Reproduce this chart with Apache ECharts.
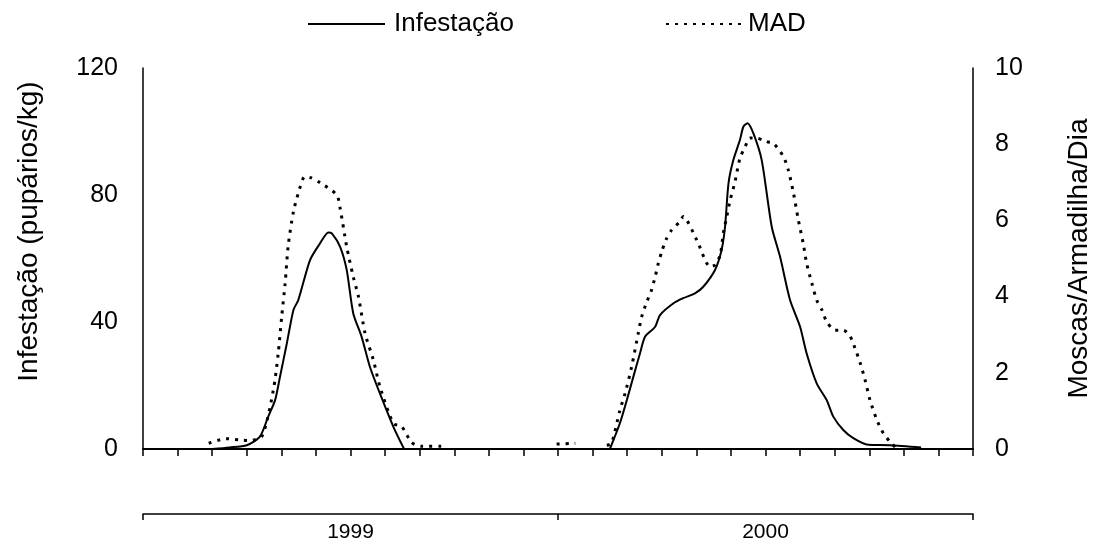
<!DOCTYPE html>
<html><head><meta charset="utf-8">
<script src="https://cdn.jsdelivr.net/npm/echarts@6/dist/echarts.min.js"></script>
<style>html,body{margin:0;padding:0;background:#fff}#c{width:1101px;height:548px}</style>
</head><body><div id="c"></div>
<script>
// x positions are in months counted from Jan 1999 (0..24)
const years = ['1999', '2000'];
const leftTicks = [0, 40, 80, 120];
const rightTicks = [0, 2, 4, 6, 8, 10];

const infestMonth = [2.0, 2.5, 3.0, 3.38, 3.62, 3.82, 3.96, 4.16, 4.35, 4.49, 4.83, 5.12, 5.36, 5.46, 5.70, 5.89, 6.08, 6.32, 6.56, 6.85, 7.24, 7.55,
  10.0,
  13.5, 13.79, 13.99, 14.18, 14.37, 14.52, 14.81, 14.95, 15.34, 15.62, 15.96, 16.2, 16.54, 16.73, 16.83, 16.93, 17.07, 17.26, 17.36, 17.48, 17.65, 17.89, 18.18, 18.42, 18.71, 19.0, 19.19, 19.48, 19.77, 19.96, 20.25, 20.54, 20.97, 21.6, 22.5];
const infestValue = [0, 0.5, 1.2, 3.9, 10.2, 15.4, 22.7, 33.3, 43.8, 46.9, 59.5, 64.8, 68.2, 67.9, 63.7, 56.4, 42.7, 35.4, 25.9, 17.5, 7.0, 0,
  null,
  0, 8.1, 15.4, 22.8, 30.1, 35.4, 38.5, 42.2, 45.9, 47.5, 49.0, 51.1, 56.4, 62.7, 70.0, 83.7, 91.0, 97.3, 101.5, 102.6, 99.4, 91.0, 70.0, 60.6, 46.9, 38.5, 30.1, 20.7, 15.4, 10.2, 6.0, 3.4, 1.3, 1.2, 0.5];

const madMonth = [1.9, 2.4, 2.9, 3.1, 3.45, 3.77, 3.91, 4.01, 4.11, 4.2, 4.35, 4.49, 4.68, 4.85, 5.12, 5.6, 5.7, 5.89, 6.08, 6.23, 6.42, 6.66, 6.85, 7.24, 7.48, 7.77, 8.05, 8.7,
  9.5,
  11.96, 12.5,
  13.0,
  13.41, 13.55, 13.79, 13.94, 14.13, 14.32, 14.42, 14.57, 14.69, 14.81, 14.9, 15.0, 15.12, 15.29, 15.53, 15.62, 16.01, 16.4, 16.54, 16.69, 16.78, 16.88, 16.98, 17.12, 17.26, 17.41, 17.55, 17.75, 17.99, 18.23, 18.52, 18.66, 18.81, 18.95, 19.09, 19.19, 19.34, 19.48, 19.63, 19.77, 20.01, 20.25, 20.45, 20.59, 20.74, 20.88, 21.02, 21.22, 21.41, 21.6, 21.75];
const madValue = [0.15, 0.27, 0.23, 0.22, 0.35, 1.55, 2.51, 3.47, 4.35, 5.35, 6.23, 6.71, 7.15, 7.12, 6.99, 6.67, 6.32, 5.31, 4.52, 4.0, 3.04, 2.34, 1.64, 0.67, 0.59, 0.17, 0.07, 0.07,
  null,
  0.13, 0.15,
  null,
  0.1, 0.15, 1.02, 1.46, 2.16, 3.04, 3.47, 3.87, 4.13, 4.52, 4.87, 5.18, 5.49, 5.75, 5.97, 6.1, 5.49, 4.78, 4.83, 5.09, 5.66, 6.1, 6.54, 7.02, 7.63, 7.93, 8.16, 8.16, 8.07, 8.02, 7.67, 7.32, 6.71, 6.01, 5.40, 4.87, 4.35, 3.91, 3.65, 3.34, 3.12, 3.12, 2.95, 2.64, 2.25, 1.81, 1.29, 0.76, 0.41, 0.19, 0.05];

const infestData = infestMonth.map((m, i) => [m, infestValue[i]]);
const madData = madMonth.map((m, i) => [m, madValue[i]]);

const chart = echarts.init(document.getElementById('c'), null, {renderer: 'canvas'});
const FONT = 'Liberation Sans, Arial, sans-serif';
const legendBase = {
  top: 6, itemWidth: 77, itemHeight: 14,
  itemStyle: {opacity: 0, borderWidth: 0},
  textStyle: {fontSize: 26, color: '#000', fontFamily: FONT}
};
chart.setOption({
  animation: false,
  backgroundColor: '#fff',
  textStyle: {fontFamily: FONT, color: '#000'},
  legend: [
    Object.assign({}, legendBase, {left: 302, data: ['Infestação'],
      textStyle: {fontSize: 26, color: '#000', fontFamily: FONT, padding: [0, 0, 0, 4]}}),
    Object.assign({}, legendBase, {left: 660, data: ['MAD']})
  ],
  grid: {left: 143, right: 128, top: 68, bottom: 99},
  xAxis: [{
    type: 'value', min: 0, max: 24, interval: 1,
    axisLine: {show: true, onZero: false, lineStyle: {color: '#000', width: 2}},
    axisTick: {show: true, length: 7, lineStyle: {color: '#000', width: 1.5}},
    axisLabel: {show: false}, splitLine: {show: false}
  }, {
    type: 'category', data: years, position: 'bottom', offset: 65, boundaryGap: true,
    axisLine: {show: true, onZero: false, lineStyle: {color: '#000', width: 1.5}},
    axisTick: {show: true, length: 6, alignWithLabel: false, lineStyle: {color: '#000', width: 1.5}},
    axisLabel: {fontSize: 21, color: '#000', margin: 8, fontFamily: FONT},
    splitLine: {show: false}
  }],
  yAxis: [{
    type: 'value', min: leftTicks[0], max: leftTicks[leftTicks.length - 1], interval: 40, position: 'left',
    axisLine: {show: true, lineStyle: {color: '#000', width: 1.5}},
    axisTick: {show: false}, splitLine: {show: false},
    axisLabel: {fontSize: 25, color: '#000', margin: 25, fontFamily: FONT},
    name: 'Infestação (pupários/kg)', nameLocation: 'middle', nameRotate: 90, nameGap: 100,
    nameTextStyle: {fontSize: 28, color: '#000', fontFamily: FONT, padding: [0, 0, 0, 54]}
  }, {
    type: 'value', min: rightTicks[0], max: rightTicks[rightTicks.length - 1], interval: 2, position: 'right',
    axisLine: {show: true, lineStyle: {color: '#000', width: 1.5}},
    axisTick: {show: false}, splitLine: {show: false},
    axisLabel: {fontSize: 25, color: '#000', margin: 22, fontFamily: FONT},
    name: 'Moscas/Armadilha/Dia', nameLocation: 'middle', nameRotate: 90, nameGap: 92,
    nameTextStyle: {fontSize: 28, color: '#000', fontFamily: FONT}
  }],
  series: [{
    name: 'Infestação', type: 'line', xAxisIndex: 0, yAxisIndex: 0,
    data: infestData, showSymbol: false, symbol: 'none', smooth: 0.25, connectNulls: false,
    lineStyle: {color: '#000', width: 2, type: 'solid'}, itemStyle: {color: '#000'}
  }, {
    name: 'MAD', type: 'line', xAxisIndex: 0, yAxisIndex: 1,
    data: madData, showSymbol: false, symbol: 'none', smooth: 0.25, connectNulls: false,
    lineStyle: {color: '#000', width: 3, type: [3, 6]}, itemStyle: {color: '#000'}
  }]
});
</script></body></html>
